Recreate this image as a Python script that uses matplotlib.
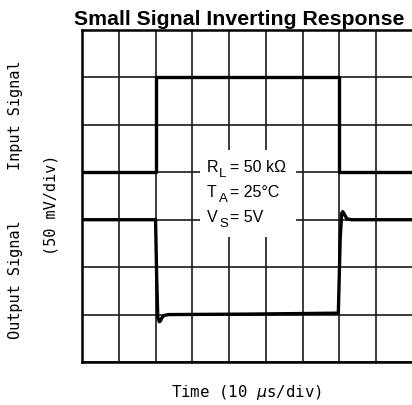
import matplotlib
matplotlib.use('Agg')
import matplotlib.pyplot as plt
from matplotlib.patches import Rectangle

# scope trace, in divisions (x: 10 us/div, y: 50 mV/div)
in_t = [0, 2.0, 2.0, 7.0, 7.0, 9.5]
in_v = [4, 4, 6, 6, 4, 4]

out_t = [0, 2.0, 2.03, 2.06, 2.1, 2.13, 2.17, 2.23, 2.35, 4.5, 6.97, 7.02, 7.06, 7.09, 7.13, 7.2, 7.32, 9.5]
out_v = [3, 3, 1.8, 0.95, 0.85, 0.86, 0.93, 0.98, 1.0, 1.01, 1.03, 2.6, 3.13, 3.17, 3.12, 3.02, 3.0, 3.0]

cond_sym = ['R', 'T', 'V']
cond_sub = ['L', 'A', 'S']
cond_val = ['= 50 k\u03a9', '= 25\u00b0C', '= 5V']

mono = 'DejaVu Sans Mono'
sans = 'Liberation Sans'

fig = plt.figure(figsize=(4.12, 4.06), dpi=100)
ax = fig.add_axes([82/412, 43/406, 331/412, 332/406])

ax.set_xlim(0, 9)
ax.set_ylim(0, 7)
ax.set_xticks(range(10))
ax.set_yticks(range(8))
ax.grid(True, color='#1a1a1a', lw=1.2)
ax.tick_params(length=0, labelbottom=False, labelleft=False)
for s in ax.spines.values():
    s.set_linewidth(1.8)
ax.set_axisbelow(True)

# blank patch behind the test conditions
ax.add_patch(Rectangle((3.2, 2.64), 2.62, 1.83, facecolor='white', edgecolor='none', zorder=2))
for i in range(3):
    yb = 4.03 - i*0.53
    ax.annotate(cond_sym[i], (3.4, yb), fontsize=11.5, family=sans, va='baseline', zorder=3)
    ax.annotate(cond_sub[i], (3.4, yb), xytext=(12, -5), textcoords='offset pixels',
                fontsize=9.5, family=sans, va='baseline', zorder=3)
    ax.annotate(cond_val[i], (3.4, yb), xytext=(23, 0), textcoords='offset pixels',
                fontsize=11.5, family=sans, va='baseline', zorder=3)

ax.plot(in_t, in_v, color='black', lw=2.4, zorder=4)
ax.plot(out_t, out_v, color='black', lw=2.4, zorder=4, solid_joinstyle='round')

fig.text(0.58, 0.952, 'Small Signal Inverting Response', fontsize=15.3, weight='bold',
         family=sans, ha='center', va='center')
fig.text(16/412, 1-115/406, 'Input Signal', rotation=90, fontsize=11, family=mono, ha='center', va='center')
fig.text(16/412, 1-280/406, 'Output Signal', rotation=90, fontsize=11, family=mono, ha='center', va='center')
fig.text(51/412, 1-205/406, '(50 mV/div)', rotation=90, fontsize=11, family=mono, ha='center', va='center')
fig.text(247/412, 1-393/406, r'Time (10 $\mu$s/div)', fontsize=11.3, family=mono, ha='center', va='center')

fig.savefig('out.png', dpi=100)
